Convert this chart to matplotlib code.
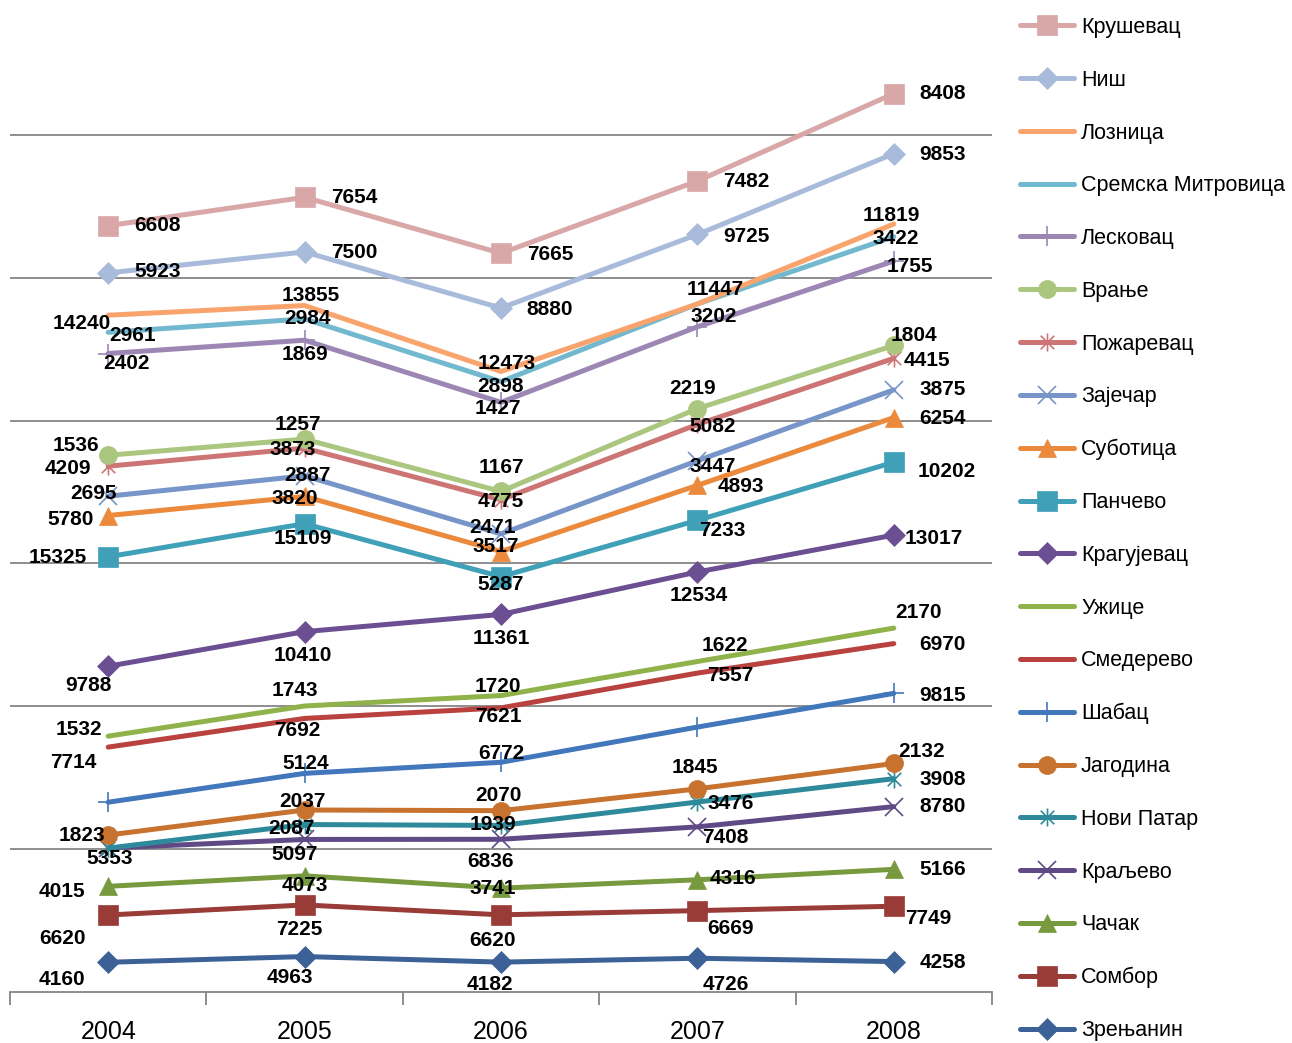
import matplotlib
matplotlib.use('Agg')
import matplotlib.pyplot as plt
from matplotlib.path import Path
import numpy as np

plt.rcParams['font.family'] = ['Liberation Sans', 'DejaVu Sans']

years = ['2004', '2005', '2006', '2007', '2008']

# stacked from the bottom up; None = empty cell (counts as 0, no label)
cities = ['Зрењанин', 'Сомбор', 'Чачак', 'Краљево', 'Нови Патар', 'Јагодина',
          'Шабац', 'Смедерево', 'Ужице', 'Крагујевац', 'Панчево', 'Суботица',
          'Зајечар', 'Пожаревац', 'Врање', 'Лесковац', 'Сремска Митровица',
          'Лозница', 'Ниш', 'Крушевац']

zrenjanin = [4160, 4963, 4182, 4726, 4258]
sombor = [6620, 7225, 6620, 6669, 7749]
cacak = [4015, 4073, 3741, 4316, 5166]
kraljevo = [5353, 5097, 6836, 7408, 8780]
novi_patar = [None, 2087, 1939, 3476, 3908]
jagodina = [1823, 2037, 2070, 1845, 2132]
sabac = [4600, 5124, 6772, 8650, 9815]
smederevo = [7714, 7692, 7621, 7557, 6970]
uzice = [1532, 1743, 1720, 1622, 2170]
kragujevac = [9788, 10410, 11361, 12534, 13017]
pancevo = [15325, 15109, 5287, 7233, 10202]
subotica = [5780, 3820, 3517, 4893, 6254]
zajecar = [2695, 2887, 2471, 3447, 3875]
pozarevac = [4209, 3873, 4775, 5082, 4415]
vranje = [1536, 1257, 1167, 2219, 1804]
leskovac = [14240, 13855, 12473, 11447, 11819]
sremska = [2961, 2984, 2898, 3202, 3422]
loznica = [2402, 1869, 1427, None, 1755]
nis = [5923, 7500, 8880, 9725, 9853]
krusevac = [6608, 7654, 7665, 7482, 8408]

series = [zrenjanin, sombor, cacak, kraljevo, novi_patar, jagodina, sabac,
          smederevo, uzice, kragujevac, pancevo, subotica, zajecar, pozarevac,
          vranje, leskovac, sremska, loznica, nis, krusevac]

# excel-like asterisk: vertical bar plus an x
star = Path([(0, -1), (0, 1), (-0.75, -0.75), (0.75, 0.75),
             (-0.75, 0.75), (0.75, -0.75)],
            [Path.MOVETO, Path.LINETO, Path.MOVETO, Path.LINETO,
             Path.MOVETO, Path.LINETO])

colors = ['#3B6196', '#993B37', '#789A3E', '#5F4A85', '#2E8A9B', '#C7732F',
          '#4277BC', '#B9423F', '#8FB24B', '#6C4F92', '#3FA0B8', '#EB8A3C',
          '#7795C8', '#CD7474', '#ABC67F', '#9B86B4', '#72B8CF', '#F9A46C',
          '#A9BBDB', '#D9A7A7']
markers = ['D', 's', '^', 'x', star, 'o', '+', None, None, 'D', 's', '^',
           'x', star, 'o', '+', None, None, 'D', 's']

# label offsets in pixels (dx right, dy down) per year; None = no label shown
label_offsets = [
    [(-46, 17), (-15, 21), (-11, 22), (28, 26), (49, 1)],
    [(-46, 23), (-5, 25), (-8, 26), (33, 18), (34, 12)],
    [(-46, 5), (0, 10), (-8, 0), (36, -1), (49, 0)],
    [(1, 10), (-10, 15), (-10, 22), (28, 11), (49, 0)],
    [None, (-13, 4), (-8, -1), (33, 1), (49, 1)],
    [(-26, 0), (-2, -8), (-3, -15), (-2, -21), (28, -12)],
    [None, (1, -10), (0, -9), None, (49, 2)],
    [(-35, 15), (-7, 12), (-3, 9), (33, 2), (49, 1)],
    [(-29, -7), (-10, -15), (-3, -9), (28, -16), (25, -16)],
    [(-20, 19), (-2, 24), (0, 24), (1, 24), (40, 3)],
    [(-50, 1), (-2, 15), (0, 8), (25, 10), (53, 9)],
    [(-38, 4), (-10, 2), (-5, -5), (43, 1), (49, 1)],
    [(-15, -3), (3, 0), (-9, -6), (15, 6), (49, 0)],
    [(-40, 2), (-12, 1), (0, 2), (15, 2), (33, 2)],
    [(-32, -10), (-7, -15), (0, -24), (-5, -20), (20, -10)],
    [(-26, -30), (6, -45), (6, -39), (18, -37), (-2, -46)],
    [(24, 3), (3, 0), (0, 5), (16, 13), (2, 2)],
    [(18, 48), (0, 49), (-3, 37), None, (16, 42)],
    [(49, -1), (50, 1), (49, 1), (49, 2), (49, 1)],
    [(49, 0), (50, 0), (49, 1), (49, 0), (49, 0)],
]


def marker_size(m):
    if m is None:
        return 0
    if m is star:
        return 13
    return {'D': 11, 's': 14, '^': 13, 'x': 13, 'o': 13, '+': 14}[m]


fig = plt.figure(figsize=(12.92, 10.43), dpi=100)
ax = fig.add_axes([10 / 1292, 51 / 1043, 982 / 1292, 992 / 1043])

x = np.arange(len(years))
base = np.zeros(len(years))
handles = []
for i, vals in enumerate(series):
    v = np.array([0 if a is None else a for a in vals], dtype=float)
    top = base + v
    m = markers[i]
    thin = m is star or m in ('x', '+')
    ln, = ax.plot(x, top, color=colors[i], lw=3.6, marker=m,
                  markersize=marker_size(m),
                  markerfacecolor=colors[i], markeredgecolor=colors[i],
                  markeredgewidth=1.2 if thin else 0.5,
                  solid_joinstyle='round', solid_capstyle='round',
                  zorder=3 + i * 0.01, clip_on=False)
    handles.append(ln)
    for j in range(len(years)):
        off = label_offsets[i][j]
        if vals[j] is None or off is None:
            continue
        ax.annotate(str(vals[j]), (x[j], top[j]), xytext=(off[0], -off[1]),
                    textcoords='offset pixels', ha='center', va='center',
                    fontsize=15, fontweight='bold', color='black', zorder=10)
    base = top

ax.set_xlim(-0.5, 4.5)
ax.set_ylim(0, 138880)
ax.set_yticks(np.arange(20000, 120001, 20000))
ax.yaxis.grid(True, color='#868686', lw=1.3)
ax.set_axisbelow(True)
ax.tick_params(axis='y', left=False, labelleft=False)
for s in ['top', 'right', 'left']:
    ax.spines[s].set_visible(False)
ax.spines['bottom'].set_color('#868686')
ax.spines['bottom'].set_linewidth(1.3)
ax.set_xticks(x)
ax.set_xticklabels(years, fontsize=18)
ax.set_xticks(np.arange(-0.5, 5, 1), minor=True)
ax.tick_params(axis='x', which='major', length=0, pad=20)
ax.tick_params(axis='x', which='minor', length=9, width=1.3, color='#868686',
               direction='out')

leg = fig.legend(handles[::-1], cities[::-1], loc='upper left',
                 bbox_to_anchor=(1020 / 1292, 1 - 17 / 1043), frameon=False,
                 fontsize=15.5, handlelength=2.5, handletextpad=0.33,
                 labelspacing=1.475, borderpad=0, borderaxespad=0)

plt.savefig('out.png', dpi=100)
